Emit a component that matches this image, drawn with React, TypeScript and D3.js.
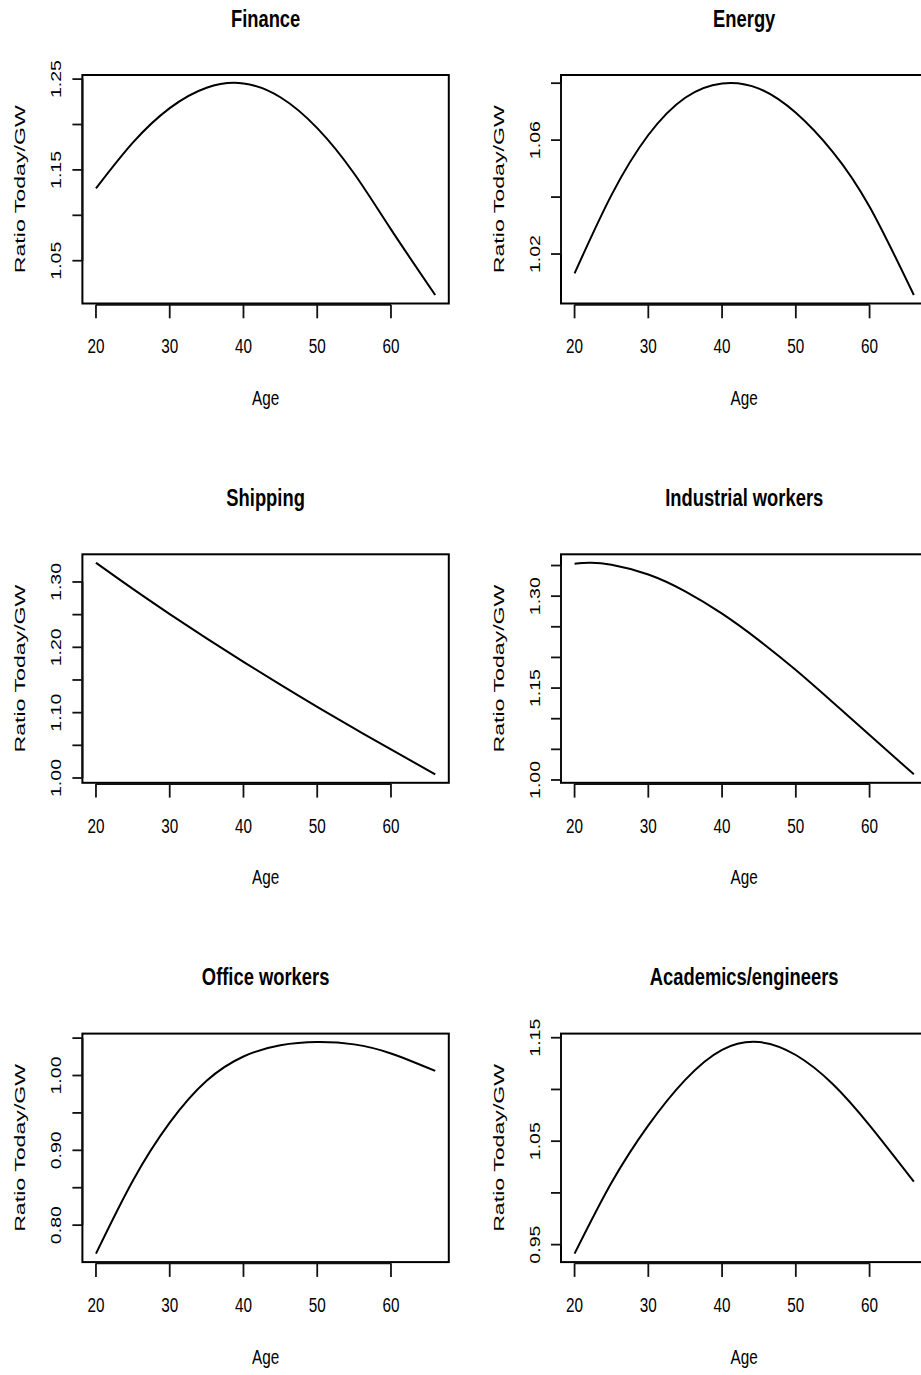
import React from "react";
import * as d3 from "d3";

// Ratio of today's earnings to the GW reference, by age, for six sectors.
const AGE_TICKS = [20, 30, 40, 50, 60];

const financeAge = [20, 25, 30, 35, 40, 45, 50, 55, 60, 66];
const financeRatio = [1.1296, 1.18, 1.218, 1.2405, 1.2452, 1.23, 1.196, 1.146, 1.0845, 1.0122];

const energyAge = [20, 25, 30, 35, 40, 45, 50, 55, 60, 66];
const energyRatio = [1.0132, 1.0407, 1.0618, 1.0749, 1.0799, 1.0781, 1.0696, 1.0559, 1.0366, 1.0056];

const shippingAge = [20, 25, 30, 35, 40, 45, 50, 55, 60, 66];
const shippingRatio = [1.3294, 1.2894, 1.2509, 1.2137, 1.1777, 1.1428, 1.1089, 1.0759, 1.0437, 1.0056];

const industrialAge = [20, 22, 25, 30, 35, 40, 45, 50, 55, 60, 66];
const industrialRatio = [1.3529, 1.3545, 1.3514, 1.3354, 1.3079, 1.2714, 1.2279, 1.1794, 1.1269, 1.0734, 1.0092];

const officeAge = [20, 25, 30, 35, 40, 45, 50, 55, 60, 66];
const officeRatio = [0.7619, 0.8594, 0.9369, 0.9929, 1.0254, 1.0404, 1.0447, 1.0416, 1.0295, 1.0062];

const academicAge = [20, 25, 30, 35, 40, 45, 50, 55, 60, 66];
const academicRatio = [0.9413, 1.0098, 1.0653, 1.1093, 1.1383, 1.1458, 1.1333, 1.1053, 1.0653, 1.0109];

const titles = ["Finance", "Energy", "Shipping", "Industrial workers", "Office workers", "Academics/engineers"];

const yTicks = [
  [1.05, 1.1, 1.15, 1.2, 1.25],
  [1.02, 1.04, 1.06, 1.08],
  [1.0, 1.05, 1.1, 1.15, 1.2, 1.25, 1.3],
  [1.0, 1.05, 1.1, 1.15, 1.2, 1.25, 1.3, 1.35],
  [0.8, 0.85, 0.9, 0.95, 1.0, 1.05],
  [0.95, 1.0, 1.05, 1.1, 1.15],
];
const yLabels = [
  [1.05, 1.15, 1.25],
  [1.02, 1.06],
  [1.0, 1.1, 1.2, 1.3],
  [1.0, 1.15, 1.3],
  [0.8, 0.9, 1.0],
  [0.95, 1.05, 1.15],
];

const ages = [financeAge, energyAge, shippingAge, industrialAge, officeAge, academicAge];
const ratios = [financeRatio, energyRatio, shippingRatio, industrialRatio, officeRatio, academicRatio];

// Layout
const W = 921;
const H = 1375;
const COL_X = [0, 478.6];
const ROW_Y = [0, 479.3, 958.6];
const BOX = { left: 82.4, right: 448.8, top: 75, bottom: 303.5 };
const FONT = "'Liberation Sans', Arial, Helvetica, sans-serif";
const BASE = 15.3;
const STRETCH = 1.35;

function padded(extent: [number, number]): [number, number] {
  const r = extent[1] - extent[0];
  return [extent[0] - 0.04 * r, extent[1] + 0.04 * r];
}

function Panel({ i }: { i: number }) {
  const col = i % 2;
  const row = Math.floor(i / 2);
  const ox = COL_X[col];
  const oy = ROW_Y[row];
  const a = ages[i];
  const v = ratios[i];

  const x = d3
    .scaleLinear()
    .domain(padded(d3.extent(a) as [number, number]))
    .range([BOX.left, BOX.right]);
  const y = d3
    .scaleLinear()
    .domain(padded(d3.extent(v) as [number, number]))
    .range([BOX.bottom, BOX.top]);

  const pts: [number, number][] = a.map((d, k) => [d, v[k]]);
  const line = d3
    .line<[number, number]>()
    .x((d) => x(d[0]))
    .y((d) => y(d[1]))
    .curve(d3.curveNatural);

  const cx = (BOX.left + BOX.right) / 2;
  const cy = (BOX.top + BOX.bottom) / 2;
  const ticks = yTicks[i];
  const xAxisY = BOX.bottom + 1.2;

  return (
    <g transform={`translate(${ox},${oy})`}>
      <text
        transform={`translate(${cx},26.7) scale(1,${STRETCH})`}
        textAnchor="middle"
        fontFamily={FONT}
        fontWeight="bold"
        fontSize={BASE * 1.2}
      >
        {titles[i]}
      </text>

      <rect
        x={BOX.left}
        y={BOX.top}
        width={BOX.right - BOX.left}
        height={BOX.bottom - BOX.top}
        fill="none"
        stroke="#000"
        strokeWidth={2}
      />

      <path d={line(pts) ?? ""} fill="none" stroke="#000" strokeWidth={2} />

      {/* x axis */}
      <line x1={x(AGE_TICKS[0])} x2={x(AGE_TICKS[AGE_TICKS.length - 1])} y1={xAxisY} y2={xAxisY} stroke="#111" strokeWidth={2} />
      {AGE_TICKS.map((t) => (
        <g key={t}>
          <line x1={x(t)} x2={x(t)} y1={xAxisY} y2={318.3} stroke="#111" strokeWidth={1.8} />
          <text
            transform={`translate(${x(t)},353.3) scale(1,${STRETCH})`}
            textAnchor="middle"
            fontFamily={FONT}
            fontSize={BASE}
          >
            {t}
          </text>
        </g>
      ))}
      <text transform={`translate(${cx},405) scale(1,${STRETCH})`} textAnchor="middle" fontFamily={FONT} fontSize={BASE}>
        Age
      </text>

      {/* y axis */}
      <line
        x1={BOX.left}
        x2={BOX.left}
        y1={y(ticks[0])}
        y2={y(ticks[ticks.length - 1])}
        stroke="#111"
        strokeWidth={2}
      />
      {ticks.map((t) => (
        <line key={t} x1={BOX.left - 10} x2={BOX.left} y1={y(t)} y2={y(t)} stroke="#111" strokeWidth={1.8} />
      ))}
      {yLabels[i].map((t) => (
        <text
          key={t}
          transform={`translate(${BOX.left - 21.5},${y(t)}) rotate(-90)`}
          textAnchor="middle"
          fontFamily={FONT}
          fontSize={BASE}
          textLength={38}
          lengthAdjust="spacingAndGlyphs"
        >
          {t.toFixed(2)}
        </text>
      ))}
      <text
        transform={`translate(${BOX.left - 57.5},${cy}) rotate(-90)`}
        textAnchor="middle"
        fontFamily={FONT}
        fontSize={BASE}
        textLength={168}
        lengthAdjust="spacingAndGlyphs"
      >
        Ratio Today/GW
      </text>
    </g>
  );
}

export default function App() {
  return (
    <svg
      width={W}
      height={H}
      viewBox={`0 0 ${W} ${H}`}
      style={{ position: "absolute", left: 0, top: 0, background: "#fff" }}
    >
      <rect width={W} height={H} fill="#fff" />
      {titles.map((_, i) => (
        <Panel key={i} i={i} />
      ))}
    </svg>
  );
}
